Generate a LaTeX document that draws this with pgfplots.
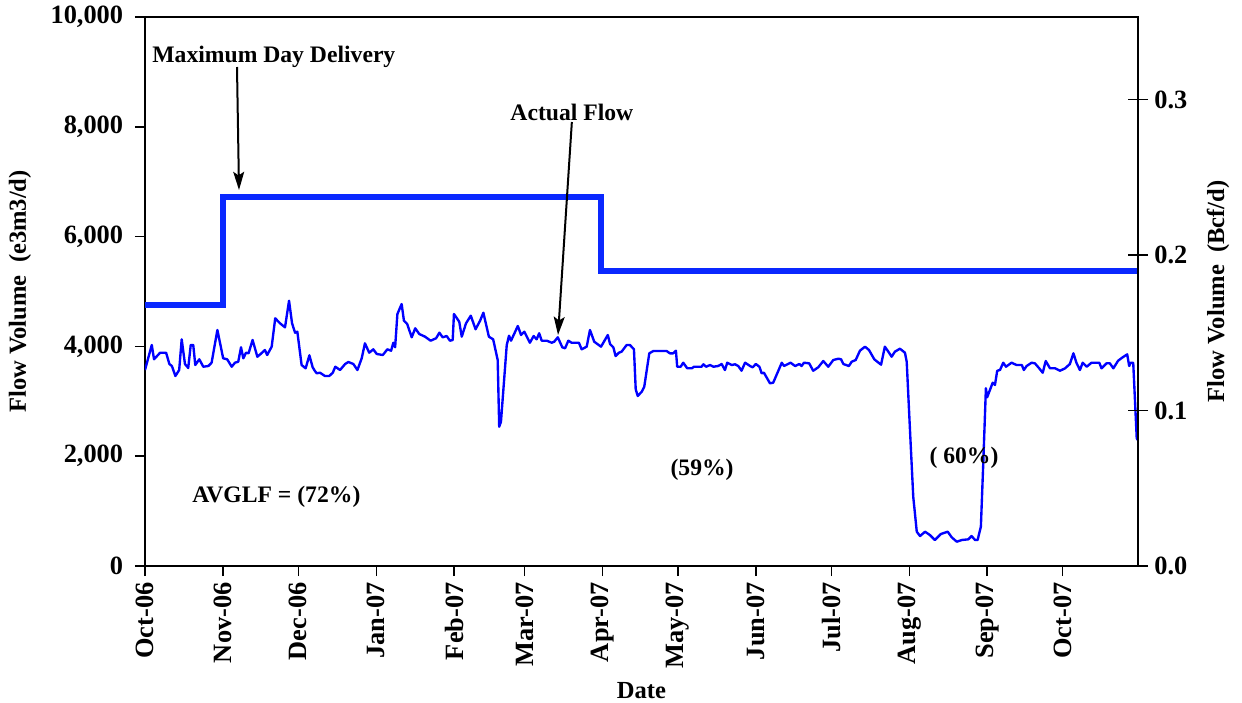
\documentclass[border=0pt]{standalone}
\usepackage{fontspec}
\setmainfont{Liberation Serif}
\usepackage{pgfplots}
\pgfplotsset{compat=1.18}
\usetikzlibrary{arrows.meta}
\definecolor{flowblue}{RGB}{0,0,255}
\definecolor{mddblue}{RGB}{10,40,255}

% day 0 = 1 Oct 2006
\pgfplotstableread{
day val
0 4750
31 4750
31 6720
181.5 6720
181.5 5380
395 5380
}\mdd

\begin{document}
\begin{tikzpicture}
\begin{axis}[
  scale only axis,
  width=19.19cm, height=10.61cm,
  xmin=0, xmax=395, ymin=0, ymax=10000,
  xtick={0,31,61,92,123,151,182,212,243,273,304,335,365},
  xticklabels={Oct-06,Nov-06,Dec-06,Jan-07,Feb-07,Mar-07,Apr-07,May-07,Jun-07,Jul-07,Aug-07,Sep-07,Oct-07},
  ytick={0,2000,4000,6000,8000,10000},
  scaled y ticks=false,
  yticklabel style={xshift=-3pt, /pgf/number format/.cd, fixed, 1000 sep={,}},
  /pgf/number format/assume math mode=true,
  tick label style={font=\fontsize{14.5}{16}\selectfont\bfseries},
  xticklabel style={rotate=90, anchor=east},
  xtick pos=bottom, ytick pos=left,
  tick align=outside, major tick length=5.5pt,
  tick style={black, line width=0.8pt},
  axis line style={line width=1.1pt},
  xlabel={Date},
  ylabel={Flow Volume\ \ (e3m3/d)},
  label style={font=\fontsize{13.5}{16}\selectfont\bfseries},
  xlabel style={at={(axis description cs:0.5,-0.226)}, anchor=center},
  ylabel style={at={(axis description cs:-0.126,0.5)}, anchor=center},
]
\coordinate (bl) at (rel axis cs:0,0);
\coordinate (tr) at (rel axis cs:1,1);

\addplot[mddblue, line width=3.2pt, line join=miter] table[x=day, y=val] {\mdd};

\addplot[flowblue, line width=1.3pt, line join=round] coordinates {
(0,3570) (2.7,4026) (3.6,3765) (6.0,3885) (8.4,3885) (9.7,3679) (10.7,3643)
(12.1,3461) (13.6,3570) (14.6,4129) (15.9,3679) (17.2,3607) (18.2,4026)
(19.2,4026) (20.0,3661) (21.6,3765) (23.2,3630) (25.2,3643) (26.5,3703)
(28.8,4299) (31.1,3783) (32.7,3765) (34.5,3630) (35.8,3703) (37.1,3721)
(38.2,3984) (39.1,3783) (40.2,3885) (41.2,3874) (42.8,4117) (44.7,3812)
(46.0,3862) (47.7,3934) (48.6,3843) (50.4,3995) (51.8,4512) (53.7,4421)
(55.7,4348) (57.3,4832) (58.5,4421) (59.7,4250) (60.6,4268) (62.3,3661)
(63.9,3601) (65.4,3838) (66.7,3619) (67.6,3552) (68.3,3510) (69.6,3521)
(71.6,3461) (73.3,3461) (74.7,3521) (75.7,3630) (77.6,3570) (79.6,3679)
(80.9,3716) (82.9,3679) (84.5,3570) (86.2,3783) (87.5,4056) (89.2,3885)
(90.8,3947) (92.2,3862) (94.6,3843) (96.4,3947) (97.9,3922) (98.8,4067)
(99.5,3984) (100.4,4590) (102.1,4772) (103.0,4468) (104.3,4408) (106.1,4166)
(107.5,4330) (109.1,4226) (111.4,4177) (113.6,4104) (115.8,4148) (117.1,4250)
(118.4,4166) (120.0,4189) (121.3,4104) (122.4,4117) (122.9,4590) (125.0,4450)
(126.0,4177) (127.7,4421) (129.6,4559) (131.5,4312) (133.3,4468) (134.6,4614)
(136.8,4177) (138.5,4129) (140.3,3752) (140.9,2537) (141.6,2628) (143.9,4026)
(144.8,4195) (145.6,4104) (148.3,4372) (149.6,4208) (150.9,4268) (153.1,4067)
(154.6,4189) (155.8,4129) (156.8,4239) (157.8,4104) (159.8,4104) (161.8,4067)
(162.8,4086) (164.2,4166) (166.0,3984) (167.1,3965) (168.4,4104) (169.7,4067)
(172.6,4067) (173.7,3947) (175.7,3995) (177.0,4299) (178.7,4086) (181.4,3995)
(184.1,4208) (185.0,4044) (186.3,3984) (187.2,3825) (188.5,3885) (189.6,3904)
(191.6,4026) (192.9,4026) (194.5,3947) (195.2,3219) (196.0,3097) (197.6,3175)
(198.6,3266) (200.6,3874) (202.2,3916) (207.5,3916) (208.8,3874) (210.1,3874)
(211.2,3922) (211.7,3630) (213.1,3630) (214.1,3703) (215.7,3601) (217.5,3601)
(218.4,3630) (221.4,3630) (222.1,3674) (223.2,3630) (224.8,3661) (226.1,3630)
(228.0,3643) (229.4,3679) (230.7,3570) (231.6,3703) (233.4,3661) (234.7,3674)
(236.0,3643) (237.3,3557) (238.7,3703) (240.7,3643) (241.7,3619) (243.0,3679)
(244.4,3630) (245.3,3510) (246.2,3521) (248.6,3328) (249.9,3339) (253.3,3703)
(254.2,3643) (256.8,3703) (258.6,3643) (260.3,3679) (261.2,3643) (262.1,3703)
(264.2,3692) (265.8,3557) (267.8,3619) (269.8,3734) (271.8,3630) (273.8,3752)
(275.8,3776) (276.9,3765) (277.8,3679) (280.0,3643) (281.1,3721) (282.7,3752)
(284.4,3922) (286.4,3995) (288.0,3934) (290.1,3765) (292.8,3667) (294.3,3995)
(295.7,3904) (297.0,3812) (298.3,3904) (300.3,3958) (302.3,3885) (303.0,3721)
(304.3,2477) (305.6,1262) (307.0,625) (308.3,546) (310.3,625) (312.2,565)
(314.2,474) (316.6,583) (319.3,625) (320.9,523) (322.9,443) (324.9,474)
(327.5,486) (328.8,546) (330.2,474) (331.2,474) (332.5,716) (333.4,1809)
(334.5,3237) (335.0,3073) (337.2,3339) (338.1,3297) (339.0,3557) (340.1,3570)
(341.4,3703) (342.5,3630) (344.7,3703) (346.7,3661) (348.8,3661) (349.6,3570)
(350.7,3643) (352.7,3703) (354.0,3692) (355.7,3601) (357.1,3521) (358.3,3734)
(360.0,3601) (362.0,3601) (364.0,3557) (366.0,3601) (367.9,3679) (369.3,3874)
(370.6,3692) (371.9,3570) (373.0,3703) (374.6,3630) (376.5,3703) (379.6,3703)
(380.5,3601) (382.5,3692) (383.8,3692) (385.2,3601) (387.1,3740) (388.9,3801)
(390.7,3856) (391.5,3643) (392.1,3703) (393.1,3703) (394.5,2326) (394.9,2295)
};

\begin{scope}[font=\fontsize{13}{15}\selectfont\bfseries]
\node[anchor=west, inner sep=0pt] at (axis cs:2.8,9270) {Maximum Day Delivery};
\draw[line width=1.1pt, -{Stealth[length=10pt,width=6pt,inset=2pt]}] (axis cs:36.6,9089) -- (axis cs:37.4,6849);
\node at (axis cs:169.8,8270) {Actual Flow};
\draw[line width=1.1pt, -{Stealth[length=10pt,width=6pt,inset=2pt]}] (axis cs:169.8,8087) -- (axis cs:164.3,4208);
\node[anchor=west, inner sep=0pt] at (axis cs:18.7,1257) {AVGLF = (72\%)};
\node at (axis cs:221.6,1749) {(59\%)};
\node at (axis cs:325.8,1967) {( 60\%)};
\end{scope}
\end{axis}

\begin{axis}[
  scale only axis,
  width=19.19cm, height=10.61cm,
  xmin=0, xmax=395, ymin=0, ymax=0.35311,
  axis x line=none, axis y line*=right,
  ytick={0,0.1,0.2,0.3},
  yticklabel style={/pgf/number format/.cd, fixed, fixed zerofill, precision=1},
  /pgf/number format/assume math mode=true,
  tick label style={font=\fontsize{14.5}{16}\selectfont\bfseries},
  tick align=center, major tick length=11pt,
  tick style={black, line width=0.8pt},
  axis line style={line width=1.1pt},
  ylabel={Flow Volume\ \ (Bcf/d)},
  label style={font=\fontsize{13.5}{16}\selectfont\bfseries},
  ylabel style={at={(axis description cs:1.0806,0.5)}, anchor=center},
]
\end{axis}

\pgfresetboundingbox
\path[use as bounding box] ([shift={(-2.802cm,-2.628cm)}]bl) rectangle ([shift={(2.01cm,0.3285cm)}]tr);
\end{tikzpicture}
\end{document}
